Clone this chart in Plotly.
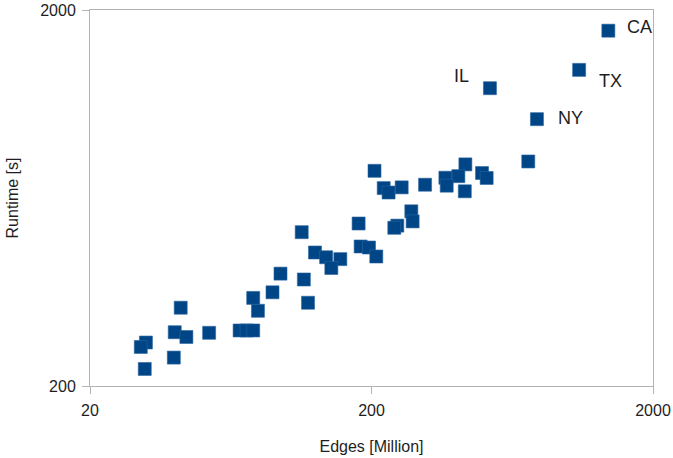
import plotly.graph_objects as go
import math

# Graph size vs. runtime, one point per input graph
edges_million = [
    1388, 1093, 527, 774, 721, 205, 431, 494, 513, 407,
    366, 370, 429, 310, 221, 230, 256, 277, 280, 247,
    241, 180, 183, 196, 208, 113, 126, 138, 155, 144,
    95, 115, 89, 76, 79, 119, 42, 68, 72, 76,
    40, 44, 53, 31.6, 30.3, 39.7, 31.3,
]
runtime_s = [
    1762, 1386, 1239, 1025, 791, 747, 777, 737, 715, 723,
    716, 682, 659, 686, 672, 654, 675, 583, 548, 534,
    527, 541, 470, 467, 442, 513, 453, 440, 435, 412,
    398, 384, 355, 343, 317, 333, 323, 281, 281, 281,
    278, 270, 277, 261, 254, 238, 222,
]

# labelled states: index into the arrays above
state_labels = ["CA", "TX", "IL", "NY"]
state_index = [0, 1, 2, 3]

x_ticks = [20, 200, 2000]
y_ticks = [200, 2000]

MARKER_COLOR = "#004586"
AXIS_COLOR = "#b3b3b3"
FONT = "Liberation Sans, Arial, sans-serif"
TEXT_COLOR = "#1e1e1e"

fig = go.Figure()
fig.add_trace(go.Scatter(
    x=edges_million,
    y=runtime_s,
    mode="markers",
    marker=dict(symbol="square", size=13, color=MARKER_COLOR,
                line=dict(width=0.6, color="#2a64a0")),
    showlegend=False,
))

# label offsets in pixels (xanchor, xshift, yshift)
label_offsets = {
    "CA": ("left", 17, 4),
    "TX": ("left", 18, -11),
    "IL": ("right", -19, 12),
    "NY": ("left", 19, 1),
}
annotations = []
for name, i in zip(state_labels, state_index):
    anchor, dx, dy = label_offsets[name]
    annotations.append(dict(
        x=math.log10(edges_million[i]), y=math.log10(runtime_s[i]),
        xref="x", yref="y", text=name, showarrow=False,
        xanchor=anchor, yanchor="middle", xshift=dx, yshift=dy,
        font=dict(family=FONT, size=18, color=TEXT_COLOR),
    ))

axis_common = dict(
    type="log",
    automargin=False,
    showgrid=False,
    zeroline=False,
    showline=True,
    mirror=True,
    linecolor=AXIS_COLOR,
    linewidth=1,
    ticks="outside",
    ticklen=7,
    tickcolor=AXIS_COLOR,
    ticklabelstandoff=3,
    tickfont=dict(family=FONT, size=16, color=TEXT_COLOR),
)

fig.update_layout(
    width=673,
    height=458,
    margin=dict(l=90, r=20, t=10, b=72),
    paper_bgcolor="white",
    plot_bgcolor="white",
    annotations=annotations,
    xaxis=dict(
        axis_common,
        range=[math.log10(x_ticks[0]), math.log10(x_ticks[-1])],
        tickvals=x_ticks,
        ticktext=[str(v) for v in x_ticks],
        title=dict(text="Edges [Million]", standoff=22,
                   font=dict(family=FONT, size=16, color=TEXT_COLOR)),
    ),
    yaxis=dict(
        axis_common,
        range=[math.log10(y_ticks[0]), math.log10(y_ticks[-1])],
        tickvals=y_ticks,
        ticktext=[str(v) for v in y_ticks],
        title=dict(text="Runtime [s]", standoff=17,
                   font=dict(family=FONT, size=16, color=TEXT_COLOR)),
    ),
)

# drop the browser's default body margin so the figure sits at the page corner
fig.write_html("out.html", config={"displayModeBar": False},
               post_script="document.body.style.margin='0';")
